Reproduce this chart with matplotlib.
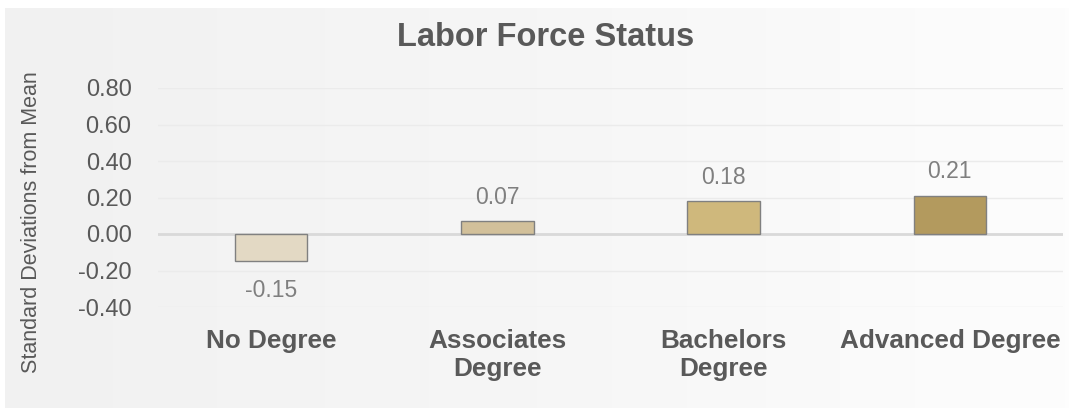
import numpy as np
import matplotlib
matplotlib.use('Agg')
from matplotlib import pyplot as plt
from matplotlib.colors import LinearSegmentedColormap

categories = ['No Degree', 'Associates\nDegree', 'Bachelors\nDegree', 'Advanced Degree']
values = [-0.15, 0.07, 0.18, 0.21]
value_labels = ['-0.15', '0.07', '0.18', '0.21']
bar_colors = ['#e3d9c4', '#d2c09a', '#cfb87c', '#b39a5e']
yticks = [-0.40, -0.20, 0.00, 0.20, 0.40, 0.60, 0.80]

plt.rcParams['font.family'] = ['Liberation Sans', 'DejaVu Sans']
text_col = '#595959'

fig = plt.figure(figsize=(10.69, 4.09), dpi=100)

# background panel with a soft left-to-right gradient
bg = fig.add_axes([5/1069, 1/409, 1064/1069, 400/409], zorder=0)
grad = np.linspace(0, 1, 256).reshape(1, -1)
cmap = LinearSegmentedColormap.from_list('bg', ['#f1f1f1', '#f6f6f6', '#fdfdfd'])
bg.imshow(grad, aspect='auto', cmap=cmap, extent=[0, 1, 0, 1])
bg.set_axis_off()

ax = fig.add_axes([158/1069, 1 - 307/409, 905/1069, 219/409], zorder=1)
ax.patch.set_alpha(0)
x = np.arange(len(categories))
ax.bar(x, values, width=0.32, color=bar_colors, edgecolor='#808080', linewidth=1.0, zorder=3)

for xi, v, lab in zip(x, values, value_labels):
    if v >= 0:
        ax.annotate(lab, (xi, v), xytext=(0, 9), textcoords='offset points',
                    ha='center', va='bottom', fontsize=16.5, color='#7f7f7f')
    else:
        ax.annotate(lab, (xi, v), xytext=(0, -13), textcoords='offset points',
                    ha='center', va='top', fontsize=16.5, color='#7f7f7f')

ax.set_xlim(-0.5, len(categories) - 0.5)
ax.set_ylim(-0.40, 0.80)
ax.set_yticks(yticks)
ax.set_yticklabels(['%.2f' % t for t in yticks], fontsize=17, color=text_col)
ax.set_xticks(x)
ax.set_xticklabels(categories, fontsize=18.8, fontweight='bold', color=text_col,
                   linespacing=1.2)
ax.tick_params(axis='both', length=0)
ax.tick_params(axis='y', pad=19)
ax.tick_params(axis='x', pad=16)
for s in ax.spines.values():
    s.set_visible(False)
ax.grid(axis='y', color='#ebebeb', linewidth=1.0, zorder=0)
ax.axhline(0, color='#d9d9d9', linewidth=2.0, zorder=2)

fig.text(546/1069, 1 - 37/409, 'Labor Force Status', ha='center', va='center',
         fontsize=23.5, fontweight='bold', color=text_col)
fig.text(32/1069, 1 - 222/409, 'Standard Deviations from Mean', rotation=90,
         ha='center', va='center', fontsize=15.5, color=text_col)

plt.savefig('out.png', dpi=100)
